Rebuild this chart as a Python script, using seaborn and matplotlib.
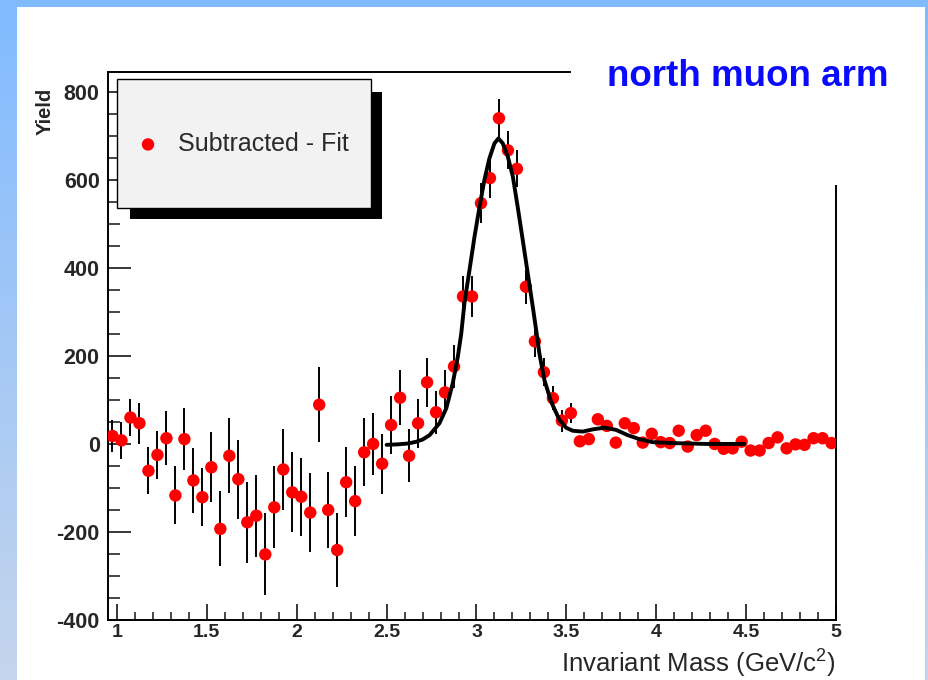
import numpy as np
import pandas as pd
import matplotlib
matplotlib.use("Agg")
import matplotlib.pyplot as plt
import seaborn as sns
from matplotlib.patches import Rectangle
from matplotlib.ticker import MultipleLocator, FuncFormatter

# ---------------- data ----------------
mass = [0.975, 1.025, 1.075, 1.125, 1.175, 1.225, 1.275, 1.325, 1.375, 1.425,
        1.475, 1.525, 1.575, 1.625, 1.675, 1.725, 1.775, 1.825, 1.875, 1.925,
        1.975, 2.025, 2.075, 2.125, 2.175, 2.225, 2.275, 2.325, 2.375, 2.425,
        2.475, 2.525, 2.575, 2.625, 2.675, 2.725, 2.775, 2.825, 2.875, 2.925,
        2.975, 3.025, 3.075, 3.125, 3.175, 3.225, 3.275, 3.325, 3.375, 3.425,
        3.475, 3.525, 3.575, 3.625, 3.675, 3.725, 3.775, 3.825, 3.875, 3.925,
        3.975, 4.025, 4.075, 4.125, 4.175, 4.225, 4.275, 4.325, 4.375, 4.425,
        4.475, 4.525, 4.575, 4.625, 4.675, 4.725, 4.775, 4.825, 4.875, 4.925,
        4.975]
yld = [18, 8, 60, 47, -61, -25, 13, -117, 11, -83,
       -121, -53, -193, -27, -80, -178, -163, -251, -144, -58,
       -110, -120, -156, 89, -150, -241, -87, -130, -19, 0,
       -45, 43, 105, -27, 47, 140, 72, 117, 176, 335,
       335, 547, 604, 740, 667, 625, 357, 233, 163, 104,
       53, 70, 6, 11, 56, 41, 3, 47, 36, 3,
       23, 4, 2, 30, -6, 20, 30, 0, -11, -10,
       5, -15, -15, 2, 15, -10, -1, -2, 13, 13,
       2]
err = [36, 42, 42, 47, 53, 55, 61, 66, 70, 73,
       66, 80, 85, 85, 90, 92, 93, 93, 93, 93,
       91, 89, 89, 85, 86, 83, 80, 79, 77, 70,
       68, 67, 62, 60, 56, 56, 49, 50, 49, 47,
       47, 45, 45, 44, 43, 42, 38, 35, 32, 28,
       25, 23, 13, 12, 12, 11, 11, 11, 10, 10,
       10, 10, 10, 10, 9, 9, 9, 9, 9, 9,
       9, 9, 9, 9, 9, 9, 9, 9, 9, 9,
       9]

fit_x = [2.50, 2.56, 2.62, 2.665, 2.70, 2.739, 2.794, 2.832, 2.868, 2.896,
         2.915, 2.933, 2.961, 2.989, 3.017, 3.044, 3.072, 3.100, 3.122, 3.146,
         3.174, 3.202, 3.229, 3.257, 3.285, 3.313, 3.335, 3.350, 3.378, 3.415,
         3.461, 3.498, 3.535, 3.591, 3.646, 3.711, 3.776, 3.841, 3.906, 3.980,
         4.090, 4.276, 4.490]
fit_y = [-2, -1, 1, 5, 10, 20, 47, 81, 138, 198,
         250, 320, 395, 471, 539, 600, 649, 683, 694, 683,
         653, 608, 539, 464, 388, 312, 250, 205, 145, 96,
         55, 37, 30, 28, 33, 37, 32, 20, 11, 4,
         2, 0, 0]

x_ticks = [1, 1.5, 2, 2.5, 3, 3.5, 4, 4.5, 5]
y_ticks = [-400, -200, 0, 200, 400, 600, 800]

legend_label = "Subtracted - Fit"
title_text = "north muon arm"
x_label = r"Invariant Mass (GeV/c$^{2}$)"
y_label = "Yield"

# ---------------- style ----------------
sns.set_style("white")
plt.rcParams["font.family"] = ["Liberation Sans", "DejaVu Sans"]
plt.rcParams["mathtext.fontset"] = "custom"
plt.rcParams["mathtext.rm"] = "Liberation Sans"
plt.rcParams["mathtext.it"] = "Liberation Sans:italic"
plt.rcParams["mathtext.bf"] = "Liberation Sans:bold"
plt.rcParams["axes.unicode_minus"] = False

W, H = 929, 680
fig = plt.figure(figsize=(W / 100, H / 100), dpi=100)
fig.patch.set_facecolor("white")

# background frame (slide border gradient)
bg = fig.add_axes([0, 0, 1, 1], zorder=-10)
top_c = np.array([128, 187, 255]) / 255
bot_c = np.array([197, 213, 236]) / 255
t = np.linspace(0, 1, 256)[:, None, None]
grad = top_c[None, None, :] * (1 - t) + bot_c[None, None, :] * t
bg.imshow(grad, extent=[0, 17, H, 0], aspect="auto", interpolation="bilinear")
bg.imshow(grad, extent=[925, W, H, 0], aspect="auto", interpolation="bilinear")
bg.add_patch(Rectangle((0, 0), W, 7, color=top_c, lw=0))
bg.set_xlim(0, W)
bg.set_ylim(H, 0)
bg.axis("off")


def fx(px):
    return px / W


def fy(py):
    return 1 - py / H


ax = fig.add_axes([fx(108), fy(620), (836 - 108) / W, (620 - 72) / H])
ax.set_facecolor("white")

df = pd.DataFrame({"mass": mass, "yield": yld, "err": err})
fit_df = pd.DataFrame({"x": fit_x, "y": fit_y})

ax.errorbar(df["mass"], df["yield"], yerr=df["err"], fmt="none",
            ecolor="black", elinewidth=1.4, capsize=0, zorder=2)
sns.scatterplot(data=df, x="mass", y="yield", ax=ax, color="#ff0000", s=80,
                edgecolor="none", linewidth=0, zorder=3, label=legend_label)
sns.lineplot(data=fit_df, x="x", y="y", ax=ax, color="black", linewidth=2.8,
             sort=False, estimator=None, zorder=4, legend=False)

ax.set_xlim(0.95, 5.0)
ax.set_ylim(-400, 845)
ax.set_xlabel("")
ax.set_ylabel("")
ax.set_xticks(x_ticks)
ax.set_yticks(y_ticks)
ax.xaxis.set_major_formatter(FuncFormatter(lambda v, p: f"{v:g}"))
ax.yaxis.set_major_formatter(FuncFormatter(lambda v, p: f"{v:g}"))
ax.xaxis.set_minor_locator(MultipleLocator(0.1))
ax.yaxis.set_minor_locator(MultipleLocator(50))
ax.tick_params(axis="x", which="major", direction="in", length=11.5, width=1.3,
               pad=3, labelsize=14)
ax.tick_params(axis="x", which="minor", direction="in", length=5.8, width=1.2)
ax.tick_params(axis="y", which="major", direction="in", length=16.5, width=1.3,
               pad=6, labelsize=15.5)
ax.tick_params(axis="y", which="minor", direction="in", length=8.6, width=1.2)
ax.tick_params(which="both", top=False, right=False, bottom=True, left=True)
for lab in ax.get_xticklabels() + ax.get_yticklabels():
    lab.set_fontweight("bold")
for s in ax.spines.values():
    s.set_linewidth(1.4)
    s.set_color("black")
    s.set_visible(True)

# legend box with shadow (ROOT style), drawn inside the axes layer
shadow = Rectangle((fx(130), fy(219)), (382 - 130) / W, (219 - 92) / H,
                   transform=fig.transFigure, facecolor="black", edgecolor="none",
                   zorder=5, clip_on=False)
box = Rectangle((fx(117), fy(208)), (371 - 117) / W, (208 - 79) / H,
                transform=fig.transFigure, facecolor="#f2f2f2", edgecolor="black",
                lw=1.0, zorder=6, clip_on=False)
ax.add_patch(shadow)
ax.add_patch(box)
handles, labels = ax.get_legend_handles_labels()
leg = ax.legend(handles, labels, loc="center left",
                bbox_to_anchor=(fx(135.5), fy(144)), bbox_transform=fig.transFigure,
                frameon=False, borderpad=0, borderaxespad=0, handlelength=1.0,
                handletextpad=0.72, fontsize=18, labelcolor="#2a2a2a")
leg.set_zorder(7)

# white panel over top right, with title text
fig.add_artist(Rectangle((fx(571), fy(185)), (925 - 571) / W, (185 - 7) / H,
                         transform=fig.transFigure, facecolor="white",
                         edgecolor="none", zorder=8))
fig.text(fx(748), fy(76), title_text, color="#0a0aff", fontsize=26.5,
         fontweight="bold", ha="center", va="center", zorder=9)

fig.text(fx(45), fy(111), y_label, rotation=90, fontsize=14.5, fontweight="bold",
         ha="center", va="center")
fig.text(fx(836), fy(664), x_label, fontsize=18.5, ha="right", va="center")

fig.savefig("out.png", dpi=100)
